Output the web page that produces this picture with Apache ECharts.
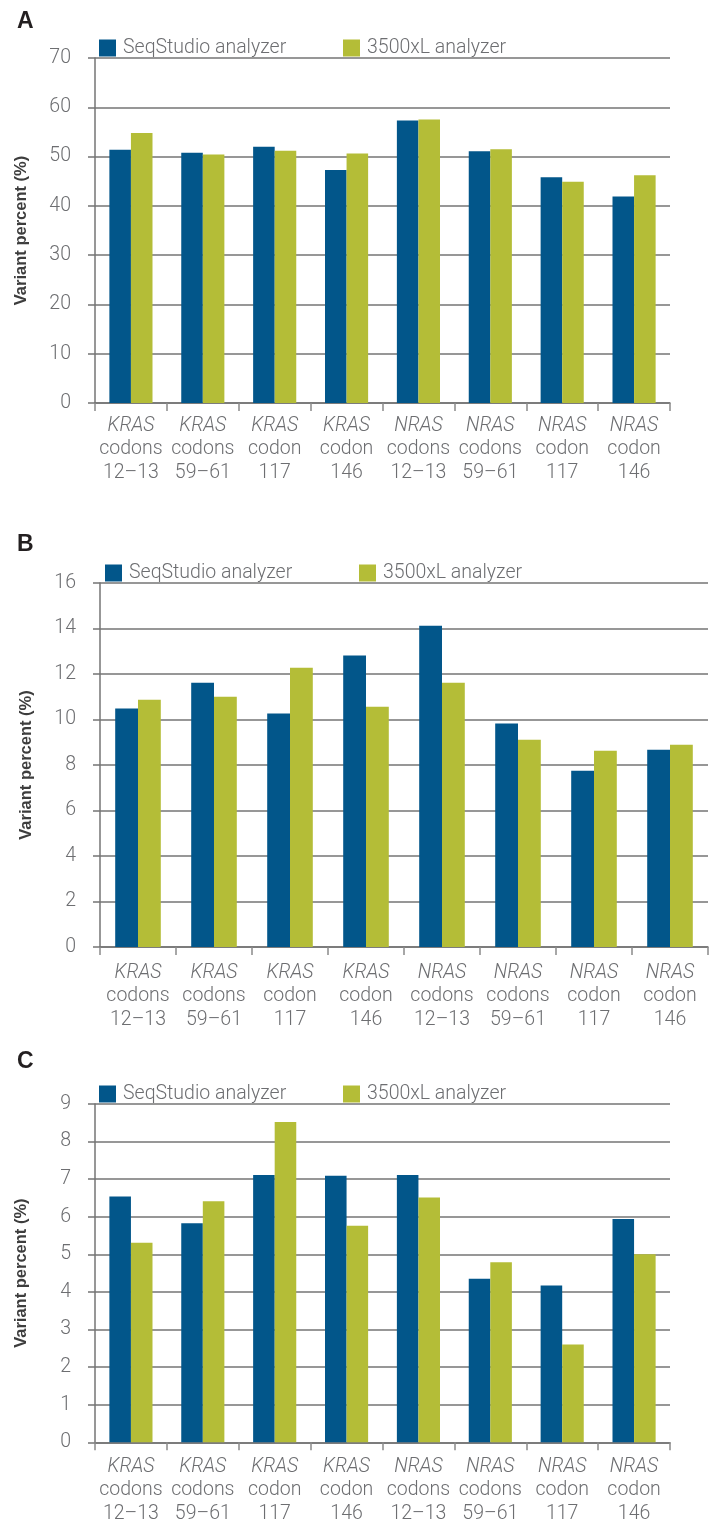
<!DOCTYPE html>
<html>
<head>
<meta charset="utf-8">
<script src="https://cdn.jsdelivr.net/npm/echarts@6/dist/echarts.min.js"></script>
<style>
  html, body {margin: 0; padding: 0; background: #fff;}
  #chart {width: 715px; height: 1524px;}
</style>
</head>
<body>
<div id="chart"></div>
<script>
// categories shared by all three panels
const categories = ['KRAS codons 12–13', 'KRAS codons 59–61', 'KRAS codon 117', 'KRAS codon 146',
                    'NRAS codons 12–13', 'NRAS codons 59–61', 'NRAS codon 117', 'NRAS codon 146'];
const seriesNames = ['SeqStudio analyzer', '3500xL analyzer'];

// panel A
const seqA = [51.4, 50.8, 52.0, 47.3, 57.3, 51.1, 45.8, 41.9];
const xlA  = [54.8, 50.4, 51.2, 50.6, 57.5, 51.5, 44.9, 46.2];
// panel B
const seqB = [10.48, 11.62, 10.26, 12.81, 14.12, 9.82, 7.75, 8.67];
const xlB  = [10.87, 11.0, 12.28, 10.56, 11.62, 9.11, 8.63, 8.89];
// panel C
const seqC = [6.54, 5.83, 7.11, 7.09, 7.11, 4.35, 4.17, 5.94];
const xlC  = [5.31, 6.41, 8.52, 5.76, 6.51, 4.79, 2.60, 5.00];

const yMax = [70, 16, 9];
const yStep = [10, 2, 1];
const panelLetters = ['A', 'B', 'C'];

const BLUE = '#02568a';
const GREEN = '#b4bd37';
const GREY = '#6d6e71';
const LINE = '#747474';
const FONT = 'Roboto';
const FS = 19.5;

const layout = [
    {left: 95, width: 575, top: 58, height: 345, title: 5, legendTop: 33, leg1: 94, leg2: 338, labelGap: 11},
    {left: 100, width: 608, top: 583, height: 364, title: 528, legendTop: 558, leg1: 100, leg2: 354, labelGap: 14},
    {left: 95, width: 575, top: 1104, height: 345, title: 1045, legendTop: 1079, leg1: 94, leg2: 338, labelGap: 13}
];
const data = [[seqA, xlA], [seqB, xlB], [seqC, xlC]];

let option = {
    backgroundColor: '#fff',
    animation: false,
    title: [], legend: [], grid: [], xAxis: [], yAxis: [], series: []
};

layout.forEach((p, i) => {
    option.title.push({
        text: panelLetters[i], left: 12, top: p.title,
        textStyle: {fontFamily: 'Liberation Sans', fontSize: 23, fontWeight: 'bold', color: '#231f20'}
    });
    [p.leg1, p.leg2].forEach((lx, k) => {
        option.legend.push({
            data: [seriesNames[k] + ' ' + panelLetters[i]],
            left: lx, top: p.legendTop,
            icon: 'rect', itemWidth: 17, itemHeight: 17, itemGap: 12,
            selectedMode: false,
            formatter: () => seriesNames[k],
            textStyle: {fontFamily: FONT, fontWeight: 300, fontSize: FS, color: GREY, padding: [0, 0, 0, 2]}
        });
    });
    option.grid.push({left: p.left, top: p.top, width: p.width, height: p.height, containLabel: false});
    option.xAxis.push({
        type: 'category', gridIndex: i, data: categories,
        axisLine: {lineStyle: {color: LINE, width: 1.5}},
        axisTick: {show: true, interval: 0, length: 8, lineStyle: {color: '#8a8a8a', width: 1.5}},
        axisLabel: {
            interval: 0, margin: p.labelGap,
            formatter: v => { const s = v.split(' '); return '{i|' + s[0] + '}\n{n|' + s[1] + '}\n{n|' + s[2] + '}'; },
            rich: {
                i: {fontFamily: FONT, fontWeight: 300, fontStyle: 'italic', fontSize: FS, lineHeight: 23.5, color: GREY},
                n: {fontFamily: FONT, fontWeight: 300, fontSize: FS, lineHeight: 23.5, color: GREY}
            }
        }
    });
    option.yAxis.push({
        type: 'value', gridIndex: i, min: 0, max: yMax[i], interval: yStep[i],
        name: 'Variant percent (%)', nameLocation: 'middle', nameGap: 65,
        nameTextStyle: {fontFamily: 'Liberation Sans', fontWeight: 'bold', fontSize: 16.5, color: '#3d3d3d'},
        axisLine: {show: true, lineStyle: {color: LINE, width: 1.5}},
        axisTick: {show: true, length: 7, lineStyle: {color: LINE, width: 1.5}},
        axisLabel: {margin: 24, fontFamily: FONT, fontWeight: 300, fontSize: FS, color: GREY},
        splitLine: {show: true, lineStyle: {color: LINE, width: 1.5}}
    });
    data[i].forEach((vals, k) => {
        option.series.push({
            name: seriesNames[k] + ' ' + panelLetters[i],
            type: 'bar', xAxisIndex: i, yAxisIndex: i,
            data: vals, barGap: 0, barCategoryGap: '40%',
            itemStyle: {color: k === 0 ? BLUE : GREEN}
        });
    });
});

const chart = echarts.init(document.getElementById('chart'));
chart.setOption(option);
</script>
</body>
</html>
